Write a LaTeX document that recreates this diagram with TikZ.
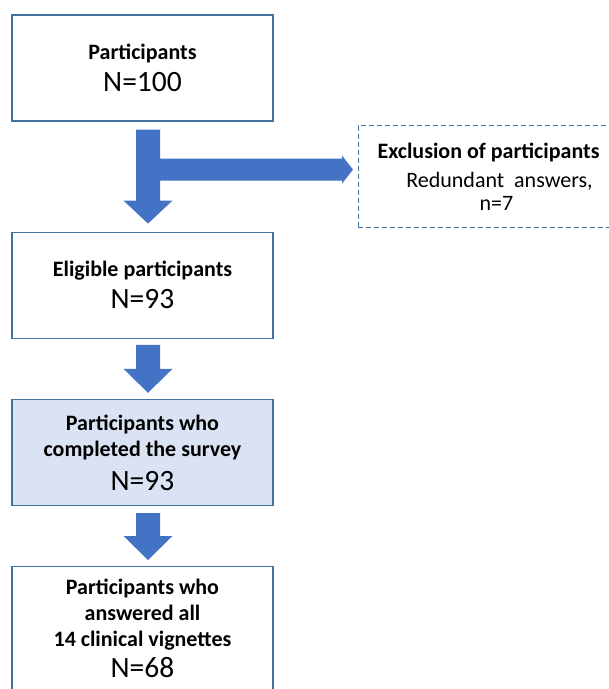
\documentclass[tikz,border=0pt]{standalone}
\usepackage{fontspec}
\setmainfont{Carlito}
\usetikzlibrary{positioning}
\usetikzlibrary{calc}
\definecolor{lineblue}{HTML}{41719C}
\definecolor{arrowblue}{HTML}{4472C4}
\definecolor{fillblue}{HTML}{DAE3F3}
\newcommand{\countfont}{\fontsize{29.5}{33}\selectfont\mdseries}
\tikzset{
	node_box/.style = {
		rectangle,
		draw=lineblue,
		line width=1.2pt,
		fill=white,
		minimum width=261pt,
		minimum height=106pt,
		inner sep=0pt,
		align=center,
		font=\fontsize{22}{26}\selectfont\bfseries
	},
	node_box_fill/.style = {
		node_box,
		fill=fillblue
	},
	node_excl/.style = {
		node_box,
		dashed,
		dash pattern=on 5pt off 3pt,
		line width=1pt,
		minimum height=102pt
	},
	arrow_block/.style = {
		fill=arrowblue,
		draw=none
	}
}
\begin{document}
\begin{tikzpicture}[x=1pt,y=1pt]
\useasboundingbox (0,0) rectangle (609,-689);
% boxes
\node [node_box] (participants) at (142.5,-68) {Participants\\[6pt]{\countfont N=100}};
\node [node_box, below=110pt of participants] (eligible) {Eligible participants\\[6pt]{\countfont N=93}};
\node [node_box_fill, below=60pt of eligible] (completed) {Participants who\\completed the survey\\[8pt]{\countfont N=93}};
\node [node_box, below=60pt of completed, minimum height=130pt] (answered) {Participants who\\answered all\\14 clinical vignettes\\[5pt]{\countfont N=68}\rule[-7pt]{0pt}{7pt}};
\node [node_excl] (exclusion) at (488.5,-176.5) {Exclusion of participants\\[3pt]\mdseries\hspace*{22pt}Redundant\ \ answers,\\[-3pt]\mdseries\hspace*{16pt}n=7};
% block arrows
\fill [arrow_block] ($(participants.south)+(-6.5,-8)$) -- ++(24,0) -- ++(0,-29) -- ++(182,0) -- ++(0,3)
	-- ++(11,-14) -- ++(-11,-14) -- ++(0,3) -- ++(-182,0) -- ++(0,-20) -- ++(12.5,0)
	-- ++(-24.5,-23) -- ++(-24.5,23) -- ++(12.5,0) -- cycle;
\fill [arrow_block] ($(eligible.south)+(-6.5,-6)$) -- ++(24,0) -- ++(0,-24) -- ++(12.5,0)
	-- ++(-24.5,-24) -- ++(-24.5,24) -- ++(12.5,0) -- cycle;
\fill [arrow_block] ($(completed.south)+(-6.5,-7)$) -- ++(24,0) -- ++(0,-23) -- ++(12.5,0)
	-- ++(-24.5,-24) -- ++(-24.5,24) -- ++(12.5,0) -- cycle;
\end{tikzpicture}
\end{document}
